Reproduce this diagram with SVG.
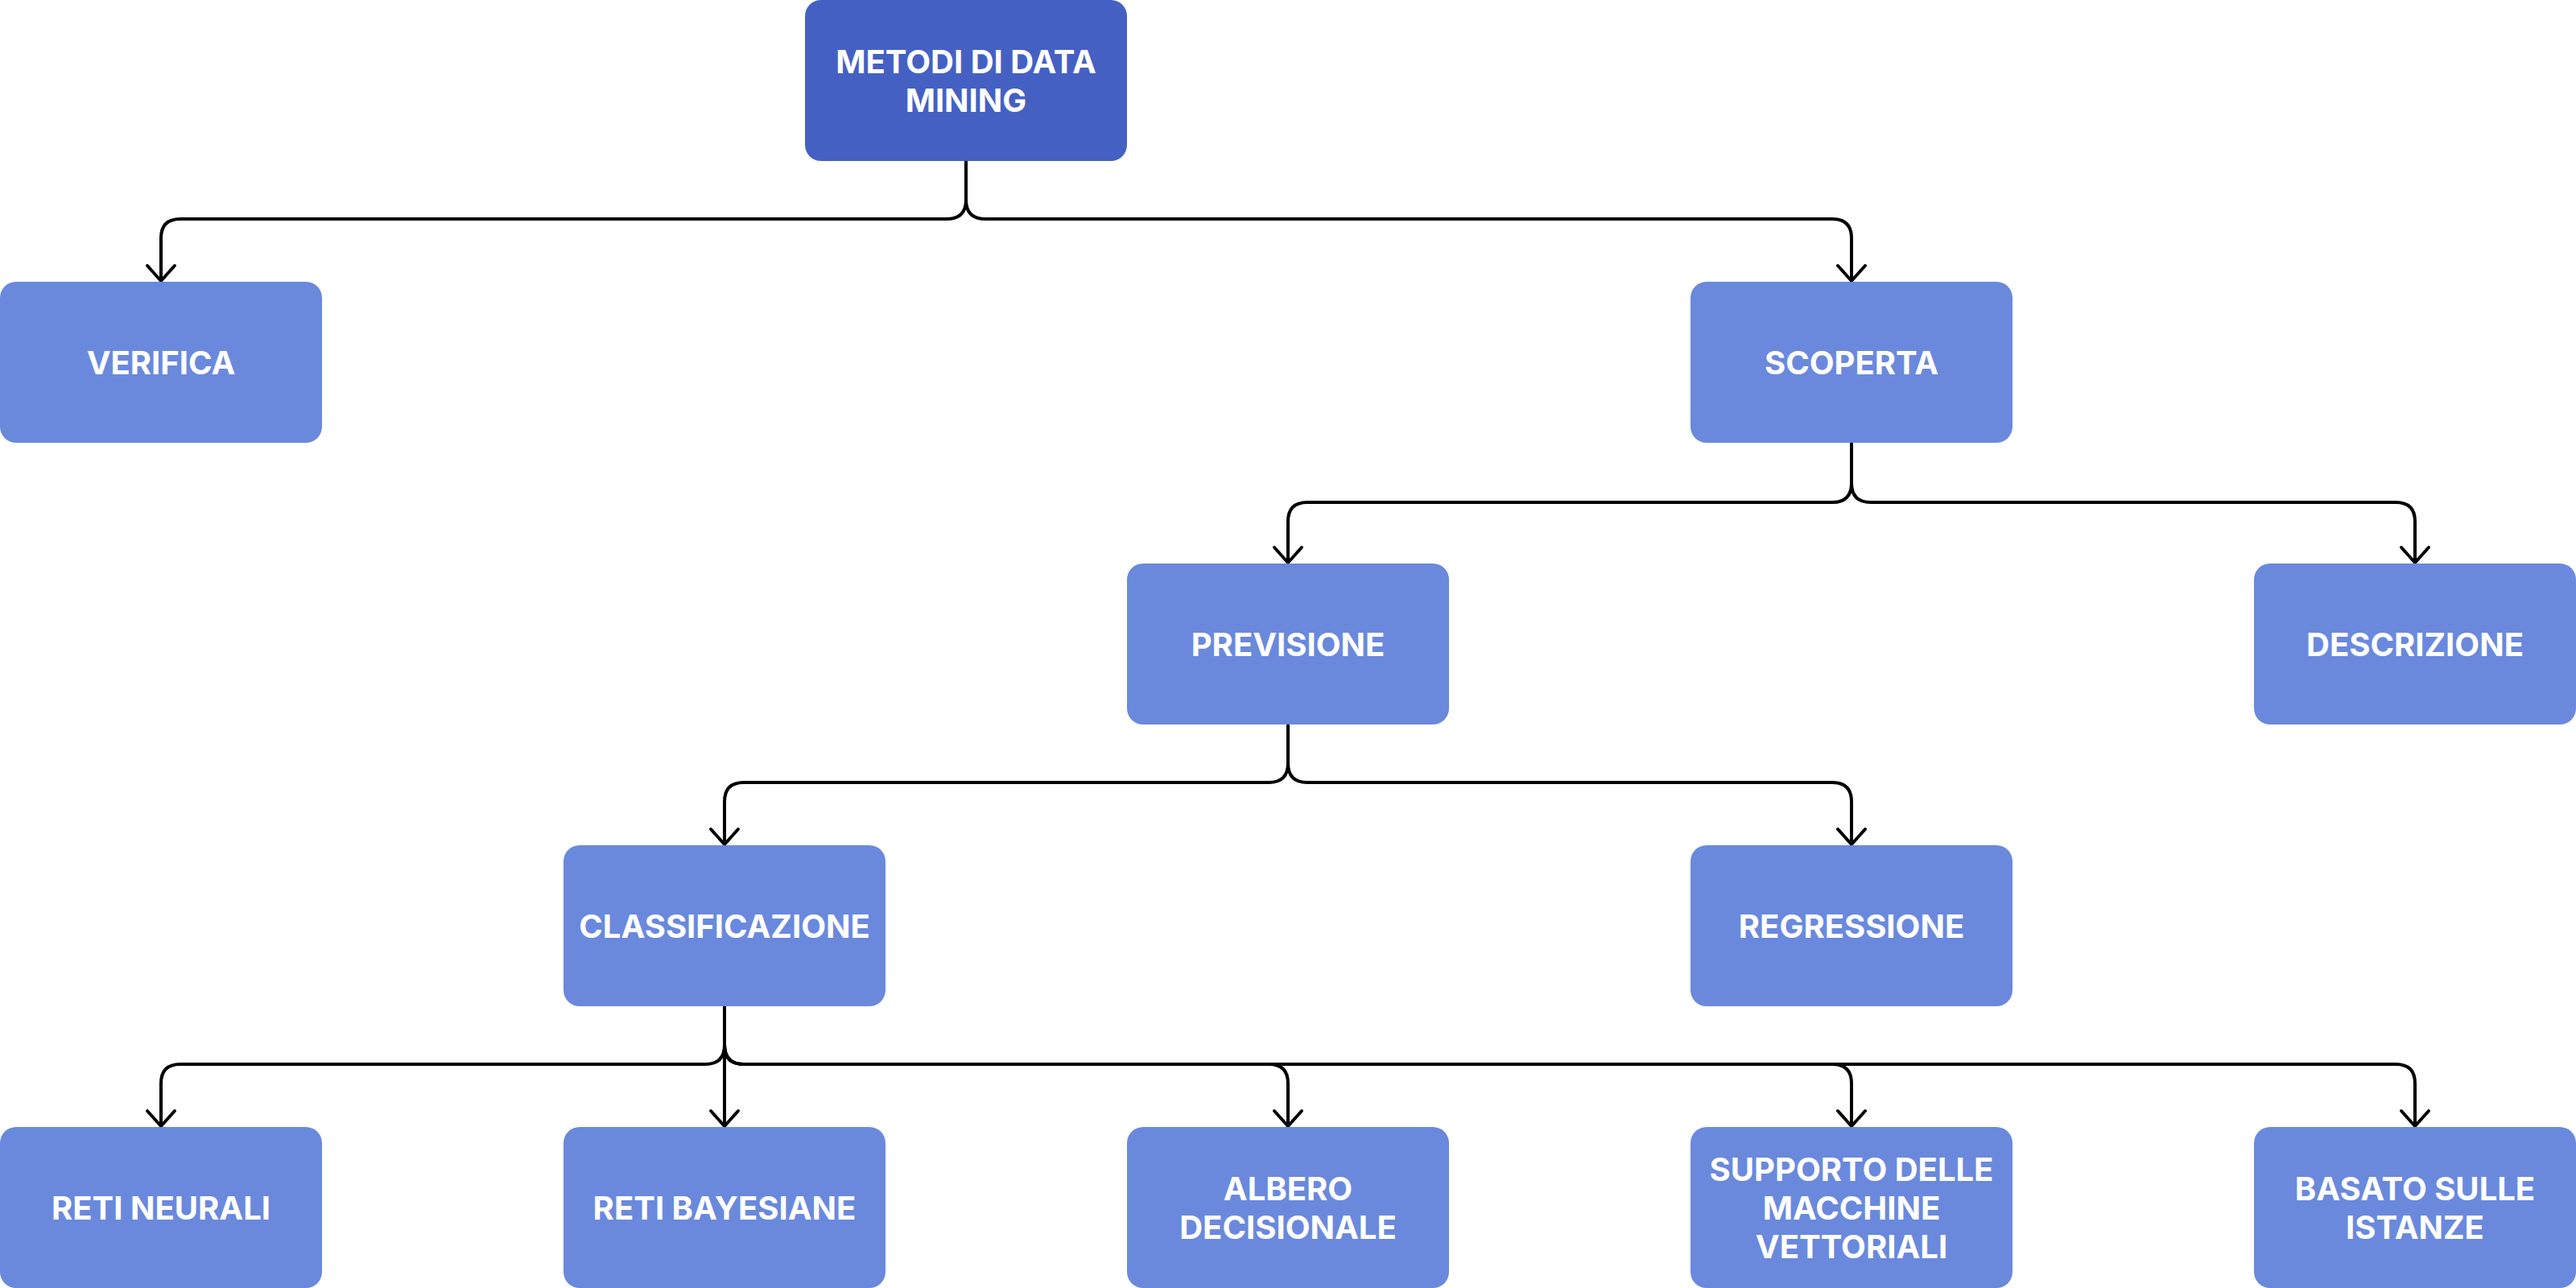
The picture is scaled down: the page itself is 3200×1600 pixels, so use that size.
<svg xmlns="http://www.w3.org/2000/svg" width="3200" height="1600" viewBox="0 0 3200 1600">
<defs>
<style>
.box{fill:#6A89DD}
.root{fill:#4560C3}
.lbl{font-family:Inter,"Liberation Sans",sans-serif;font-weight:700;font-size:40px;fill:#FFFFFF;text-anchor:middle}
.edge{fill:none;stroke:#000000;stroke-width:4;stroke-linejoin:round;stroke-linecap:round}
</style>
<marker id="arr" markerUnits="userSpaceOnUse" markerWidth="40" markerHeight="40" refX="0" refY="0" viewBox="-22 -20 24 40" orient="auto" overflow="visible">
<path d="M-19 -17 L0 0 L-19 17" fill="none" stroke="#000000" stroke-width="4" stroke-linecap="round" stroke-linejoin="round"/>
</marker>
</defs>
<rect width="3200" height="1600" fill="#FFFFFF"/>
<g id="connectors">
<path class="edge" marker-end="url(#arr)" d="M1200 200 V248 Q1200 272 1176 272 H224 Q200 272 200 296 V349"/>
<path class="edge" marker-end="url(#arr)" d="M1200 200 V248 Q1200 272 1224 272 H2276 Q2300 272 2300 296 V349"/>
<path class="edge" marker-end="url(#arr)" d="M2300 550 V600 Q2300 624 2276 624 H1624 Q1600 624 1600 648 V699"/>
<path class="edge" marker-end="url(#arr)" d="M2300 550 V600 Q2300 624 2324 624 H2976 Q3000 624 3000 648 V699"/>
<path class="edge" marker-end="url(#arr)" d="M1600 900 V948 Q1600 972 1576 972 H924 Q900 972 900 996 V1049"/>
<path class="edge" marker-end="url(#arr)" d="M1600 900 V948 Q1600 972 1624 972 H2276 Q2300 972 2300 996 V1049"/>
<path class="edge" marker-end="url(#arr)" d="M900 1250 V1298 Q900 1322 876 1322 H224 Q200 1322 200 1346 V1399"/>
<path class="edge" marker-end="url(#arr)" d="M900 1250 V1399"/>
<path class="edge" marker-end="url(#arr)" d="M900 1250 V1298 Q900 1322 924 1322 H1576 Q1600 1322 1600 1346 V1399"/>
<path class="edge" marker-end="url(#arr)" d="M900 1250 V1298 Q900 1322 924 1322 H2276 Q2300 1322 2300 1346 V1399"/>
<path class="edge" marker-end="url(#arr)" d="M900 1250 V1298 Q900 1322 924 1322 H2976 Q3000 1322 3000 1346 V1399"/>
</g>
<g id="metodi">
<rect class="root" x="1000" y="0" width="400" height="200" rx="20"/>
<text class="lbl" x="1200" y="91">METODI DI DATA</text>
<text class="lbl" x="1200" y="139">MINING</text>
</g>
<g id="verifica">
<rect class="box" x="0" y="350" width="400" height="200" rx="20"/>
<text class="lbl" x="200" y="465">VERIFICA</text>
</g>
<g id="scoperta">
<rect class="box" x="2100" y="350" width="400" height="200" rx="20"/>
<text class="lbl" x="2300" y="465">SCOPERTA</text>
</g>
<g id="previsione">
<rect class="box" x="1400" y="700" width="400" height="200" rx="20"/>
<text class="lbl" x="1600" y="815">PREVISIONE</text>
</g>
<g id="descrizione">
<rect class="box" x="2800" y="700" width="400" height="200" rx="20"/>
<text class="lbl" x="3000" y="815">DESCRIZIONE</text>
</g>
<g id="classificazione">
<rect class="box" x="700" y="1050" width="400" height="200" rx="20"/>
<text class="lbl" x="900" y="1165">CLASSIFICAZIONE</text>
</g>
<g id="regressione">
<rect class="box" x="2100" y="1050" width="400" height="200" rx="20"/>
<text class="lbl" x="2300" y="1165">REGRESSIONE</text>
</g>
<g id="reti-neurali">
<rect class="box" x="0" y="1400" width="400" height="200" rx="20"/>
<text class="lbl" x="200" y="1515">RETI NEURALI</text>
</g>
<g id="reti-bayesiane">
<rect class="box" x="700" y="1400" width="400" height="200" rx="20"/>
<text class="lbl" x="900" y="1515">RETI BAYESIANE</text>
</g>
<g id="albero-decisionale">
<rect class="box" x="1400" y="1400" width="400" height="200" rx="20"/>
<text class="lbl" x="1600" y="1491">ALBERO</text>
<text class="lbl" x="1600" y="1539">DECISIONALE</text>
</g>
<g id="supporto">
<rect class="box" x="2100" y="1400" width="400" height="200" rx="20"/>
<text class="lbl" x="2300" y="1467">SUPPORTO DELLE</text>
<text class="lbl" x="2300" y="1515">MACCHINE</text>
<text class="lbl" x="2300" y="1563">VETTORIALI</text>
</g>
<g id="basato">
<rect class="box" x="2800" y="1400" width="400" height="200" rx="20"/>
<text class="lbl" x="3000" y="1491">BASATO SULLE</text>
<text class="lbl" x="3000" y="1539">ISTANZE</text>
</g>
</svg>
